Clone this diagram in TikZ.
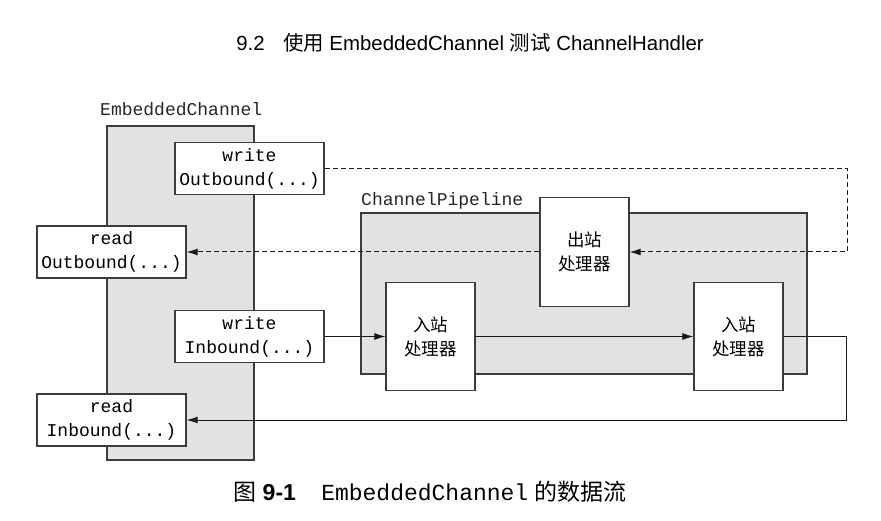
\documentclass[tikz,border=0pt]{standalone}
\usepackage{fontspec}
\setmainfont{Liberation Sans}
\setsansfont{Liberation Sans}
\setmonofont{Liberation Mono}
\newfontfamily\cjk{Noto Sans CJK SC}
\usetikzlibrary{arrows.meta}
\definecolor{boxline}{HTML}{3C3C3C}
\definecolor{panel}{HTML}{E2E2E2}
\tikzset{
  panelbox/.style={draw=boxline, line width=1.2pt, fill=panel, inner sep=0pt},
  callbox/.style={draw=boxline, line width=1.2pt, fill=white, inner sep=0pt,
    minimum width=149pt, minimum height=52pt, align=center,
    font=\ttfamily\fontsize{18}{24}\selectfont},
  handbox/.style={draw=boxline, line width=1.2pt, fill=white, inner sep=0pt,
    minimum width=89pt, minimum height=108pt, align=center,
    font=\cjk\fontsize{17.5}{24}\selectfont},
  lbl/.style={inner sep=0pt, anchor=base west, font=\ttfamily\fontsize{18}{24}\selectfont, text=black!85},
  flow/.style={line width=1pt, draw=black!90, -{Latex[length=11pt,width=7pt]}},
  dflow/.style={flow, dash pattern=on 5pt off 3pt}
}
\begin{document}
\begin{tikzpicture}[x=1pt,y=-1pt]
\useasboundingbox (0,0) rectangle (881,521);
% title
\node[inner sep=0pt, font=\sffamily\fontsize{20.4}{24}\selectfont] (title) at (470,43)
  {9.2\hspace{0.9em}{\cjk 使用} EmbeddedChannel {\cjk 测试} ChannelHandler};
% panels
\node[panelbox, minimum width=147pt, minimum height=334pt] (ec) at (180.5,293) {};
\node[lbl] (eclbl) at (100,116) {EmbeddedChannel};
\node[panelbox, minimum width=446pt, minimum height=161pt] (cp) at (584,293.5) {};
\node[lbl] (cplbl) at (361,206) {ChannelPipeline};
% call boxes
\node[callbox] (wo) at (249.5,168.5) {write\\Outbound(...)};
\node[callbox] (ro) at (111.5,252) {read\\Outbound(...)};
\node[callbox] (wi) at (249.5,336.5) {write\\Inbound(...)};
\node[callbox] (ri) at (111.5,420) {read\\Inbound(...)};
% handlers
\node[handbox, minimum height=109pt] (oh) at (584.5,252) {出站\\处理器};
\node[handbox] (ih1) at (430.5,336.5) {入站\\处理器};
\node[handbox] (ih2) at (738.5,336.5) {入站\\处理器};
% corner coordinates
\coordinate (c1) at (847,168.5);
\coordinate (c2) at (847,252);
\coordinate (c3) at (846,336.5);
\coordinate (c4) at (846,420);
% connectors
\draw[dflow] (wo.east) -- (c1) -- (c2) -- (oh.east);
\draw[dflow] (oh.west) -- (ro.east);
\draw[flow] (wi.east) -- (ih1.west);
\draw[flow] (ih1.east) -- (ih2.west);
\draw[flow] (ih2.east) -- (c3) -- (c4) -- (ri.east);
% caption
\node[inner sep=0pt, font=\fontsize{23}{26}\selectfont] (cap) at (430,492)
  {{\cjk 图} \textbf{9-1}\hspace{1.1em}{\ttfamily\fontsize{23}{26}\selectfont EmbeddedChannel} {\cjk 的数据流}};
\end{tikzpicture}
\end{document}
